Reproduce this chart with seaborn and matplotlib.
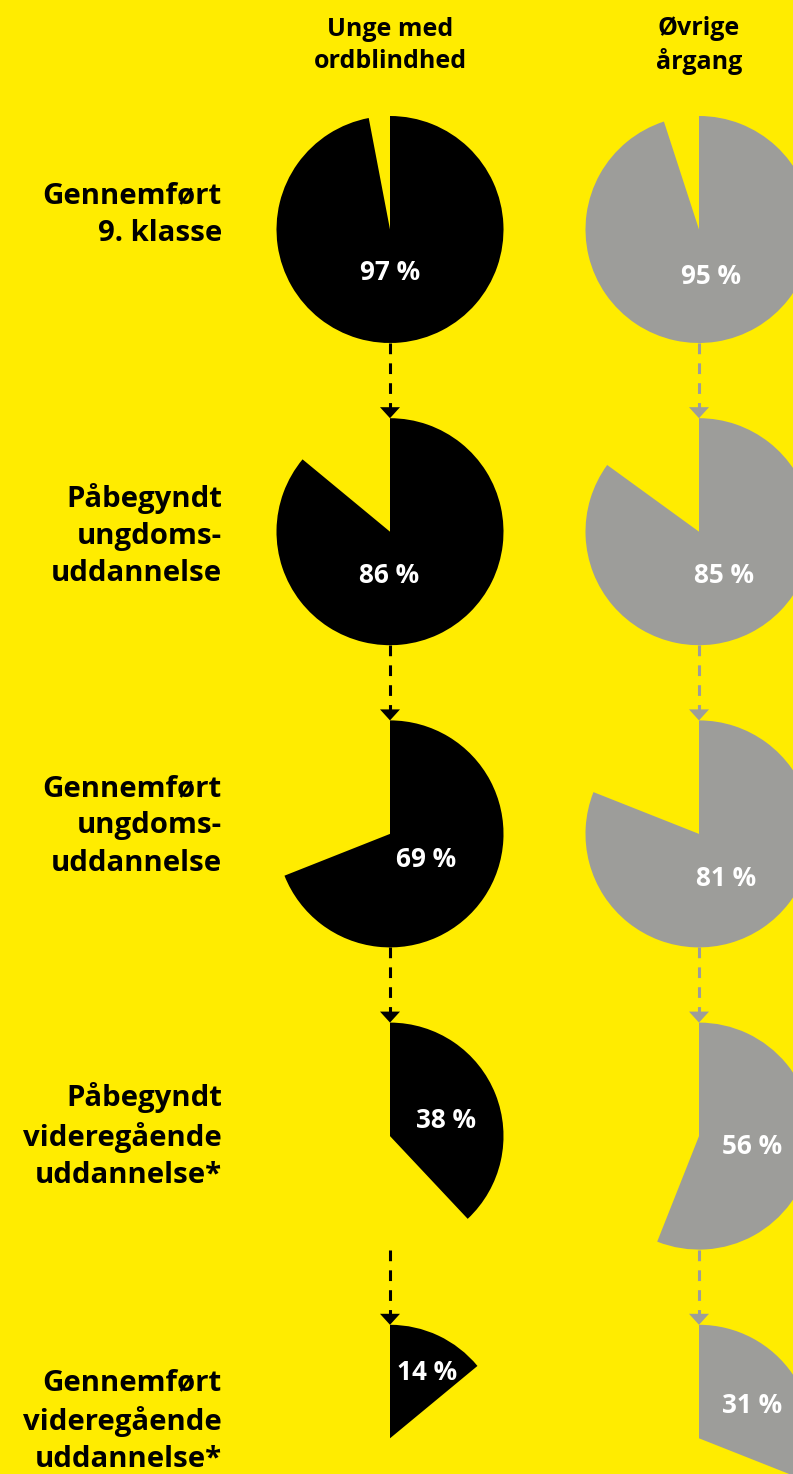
import matplotlib
matplotlib.use('Agg')
import matplotlib.pyplot as plt
import seaborn as sns

# data
steps = ['Gennemført\n9. klasse',
         'Påbegyndt\nungdoms-\nuddannelse',
         'Gennemført\nungdoms-\nuddannelse',
         'Påbegyndt\nvideregående\nuddannelse*',
         'Gennemført\nvideregående\nuddannelse*']
groups = ['Unge med\nordblindhed', 'Øvrige\nårgang']
ordblinde = [97, 86, 69, 38, 14]
oevrige = [95, 85, 81, 56, 31]

# layout (pixels)
W, H = 793, 1474
col_x = [390, 699]
row_y0, row_step = 229.5, 302.2
radius = 113.5
label_dx = [[0, -1, 36, 56, 37], [12, 25, 27, 53, 53]]
label_dy = [[43, 44, 26, -16, -66], [47, 44, 45, 10, -33]]
step_dy = [-15, 4, -8, 0, -17]

yellow = '#FFEC00'
grey = '#9D9D9A'
colors = ['black', grey]

sns.set_theme(style='white')
plt.rcParams['font.family'] = ['Open Sans', 'DejaVu Sans']

fig = plt.figure(figsize=(W / 100, H / 100), dpi=100, facecolor=yellow)
ax = fig.add_axes([0, 0, 1, 1])
ax.set_facecolor(yellow)

for c, values in enumerate([ordblinde, oevrige]):
    x = col_x[c]
    for i, v in enumerate(values):
        y = row_y0 + i * row_step
        # y axis is inverted later, so counterclock here = clockwise on screen
        ax.pie([v / 100], normalize=False, center=(x, y), radius=radius,
               startangle=-90, counterclock=True, colors=[colors[c]],
               wedgeprops=dict(linewidth=0))
        ax.text(x + label_dx[c][i], y + label_dy[c][i], f'{v} %',
                color='white', fontsize=18.8, fontweight='bold',
                ha='center', va='center')
        if i < len(values) - 1:
            top = y + radius
            tip = y + row_step - radius
            ax.plot([x, x], [top, tip - 8], color=colors[c], lw=2.2,
                    linestyle=(0, (3.5, 3)), solid_capstyle='butt')
            ax.fill([x - 10, x + 10, x], [tip - 11, tip - 11, tip],
                    color=colors[c], lw=0)
    ax.text(x, 45.5, groups[c], ha='center', va='center', fontsize=18,
            fontweight='bold', color='black', linespacing=1.38)

for i, s in enumerate(steps):
    y = row_y0 + i * row_step + step_dy[i]
    ax.text(222, y, s, ha='right', va='center', fontsize=21.2,
            fontweight='bold', color='black', linespacing=1.37)

ax.set_xlim(0, W)
ax.set_ylim(H, 0)
ax.set_aspect('auto')
ax.axis('off')

plt.savefig('out.png', dpi=100, facecolor=yellow)
